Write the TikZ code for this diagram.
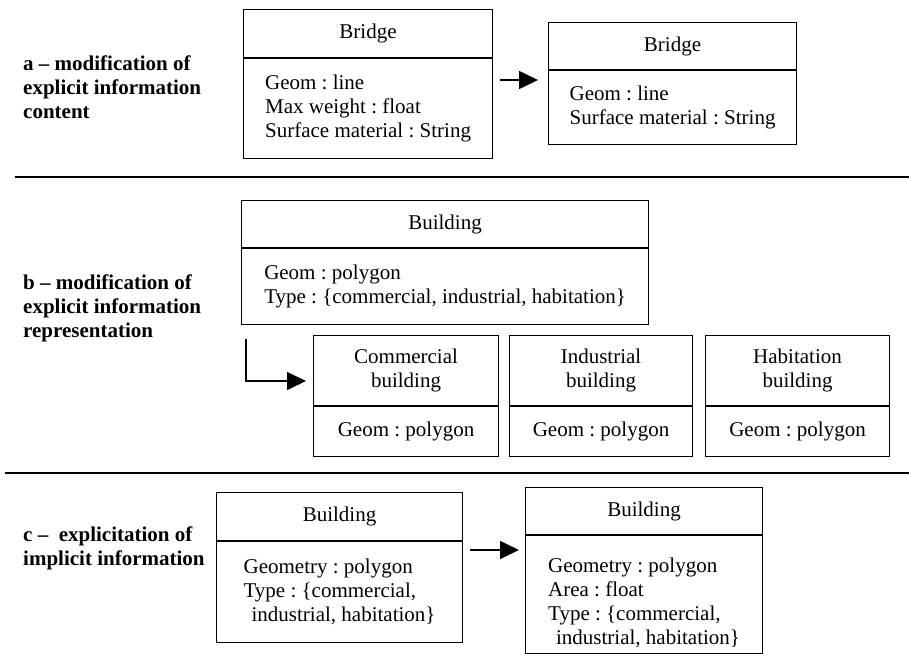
\documentclass[tikz,border=0pt]{standalone}
\usepackage{fontspec}
\setmainfont{Liberation Serif}
\usetikzlibrary{arrows.meta}

\tikzset{
  hdr/.style={draw, line width=1.1pt, anchor=north west, inner sep=0pt, align=center},
  attr/.style={draw, line width=1.1pt, anchor=north west, inner sep=0pt, align=left},
  part/.style={font=\fontsize{21}{24}\selectfont\bfseries, anchor=west, inner sep=0pt, align=left},
  flow/.style={line width=1.6pt, -{Triangle[length=19pt,width=18pt]}},
  rule/.style={line width=2.4pt}
}

\begin{document}
\begin{tikzpicture}[x=1pt, y=-1pt, font=\fontsize{21}{24}\selectfont\frenchspacing]
  \useasboundingbox (0,0) rectangle (909,656);

  \node[part] (AL) at (23, 87) {a -- modification of\\explicit information\\content};
  \node[hdr, minimum width=249, minimum height=48] (A1h) at (243, 9) {Bridge};
  \node[attr, minimum width=249, minimum height=100] (A1b) at (A1h.south west) {Geom : line\\Max weight : float\\Surface material : String};
  \node[hdr, minimum width=248, minimum height=47] (A2h) at (548, 22) {Bridge};
  \node[attr, minimum width=248, minimum height=74] (A2b) at (A2h.south west) {Geom : line\\Surface material : String};

  \coordinate (AS) at (500, 80);
  \coordinate (AE) at (538, 80);
  \draw[flow] (AS) -- (AE);

  \draw[rule] (15, 177) -- (909, 177);


  \node[part] (BL) at (23, 308) {b -- modification of\\explicit information\\representation};
  \node[hdr, minimum width=407, minimum height=47] (B1h) at (241, 200) {Building};
  \node[attr, minimum width=407, minimum height=76] (B1b) at (B1h.south west) {Geom : polygon\\Type : \{commercial, industrial, habitation\}};

  \node[hdr, minimum width=185, minimum height=70] (B2h) at (313, 335) {Commercial\\building};
  \node[attr, minimum width=185, minimum height=50] (B2b) at (B2h.south west) {Geom : polygon};
  \node[hdr, minimum width=183, minimum height=70] (B3h) at (509, 335) {Industrial\\building};
  \node[attr, minimum width=183, minimum height=50] (B3b) at (B3h.south west) {Geom : polygon};
  \node[hdr, minimum width=184, minimum height=70] (B4h) at (705, 335) {Habitation\\building};
  \node[attr, minimum width=184, minimum height=50] (B4b) at (B4h.south west) {Geom : polygon};

  \coordinate (BS) at (246, 339);
  \coordinate (BE) at (306, 381);
  \draw[flow] (BS) |- (BE);

  \draw[rule] (5, 473) -- (909, 473);


  \node[part] (CL) at (23, 548) {c --\ \ explicitation of\\implicit information};
  \node[hdr, minimum width=246, minimum height=48] (C1h) at (216, 492) {Building};
  \node[attr, minimum width=246, minimum height=101] (C1b) at (C1h.south west) {Geometry : polygon\\Type : \{commercial,\\\hspace*{8pt}industrial, habitation\}};
  \node[hdr, minimum width=237, minimum height=47] (C2h) at (525, 487) {Building};
  \node[attr, minimum width=237, minimum height=118] (C2b) at (C2h.south west) {\rule{0pt}{30pt}Geometry : polygon\\Area : float\\Type : \{commercial,\\\hspace*{8pt}industrial, habitation\}};

  \coordinate (CS) at (470, 550);
  \coordinate (CE) at (519, 550);
  \draw[flow] (CS) -- (CE);
\end{tikzpicture}
\end{document}
